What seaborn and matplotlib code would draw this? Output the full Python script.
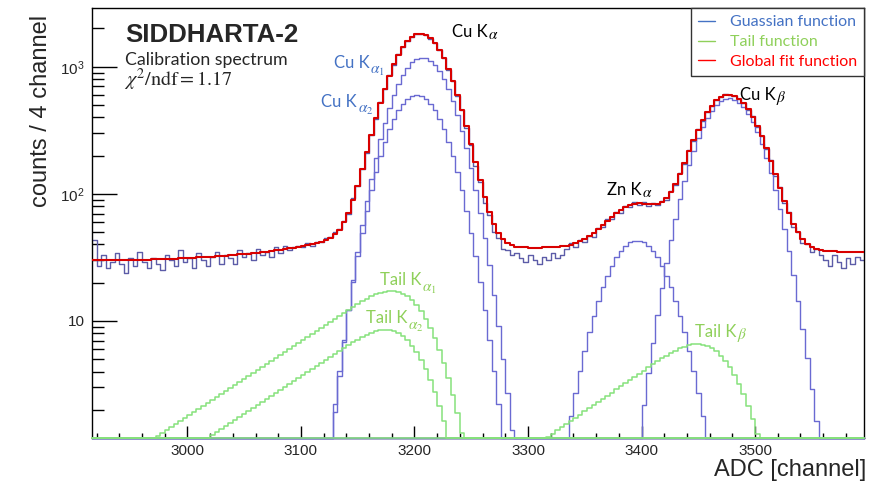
import math
import numpy as np
import matplotlib
matplotlib.use("Agg")
import matplotlib.pyplot as plt
import seaborn as sns
from matplotlib.lines import Line2D
from matplotlib.ticker import FixedLocator, FuncFormatter, NullFormatter

# ---- binning: 4 ADC channels per bin ----
adc_min, adc_max, bin_width = 2916, 3596, 4

# ---- measured calibration spectrum (counts per bin, 170 bins) ----
counts = [
    43, 27, 33, 26, 29, 34, 28, 24, 31, 27,
    35, 29, 26, 31, 28, 25, 33, 30, 27, 36,
    29, 31, 26, 34, 30, 27, 32, 35, 28, 33,
    31, 28, 36, 32, 34, 30, 37, 33, 35, 32,
    38, 34, 39, 36, 38,
    39, 38, 41, 39, 42,
    42, 45, 46, 50, 53, 61, 70, 92, 115, 158,
    210, 293, 388, 524, 670, 858, 1038, 1250, 1422, 1605,
    1715, 1806, 1810, 1782, 1668, 1538, 1345, 1163, 950, 772,
    590, 458, 328, 244, 166, 125, 85, 68, 50, 45,
    37, 36, 33, 34,
    31, 29, 33, 30, 28, 32, 30, 34, 31, 33,
    37, 41, 38, 43, 42, 47, 46, 54, 55, 63,
    63, 72, 71, 80, 79, 86, 82, 87, 80, 85,
    81, 88, 90, 105, 117, 146, 172, 220, 261, 325,
    375, 444, 488, 548, 574, 606, 598, 594, 553, 520,
    458, 407, 336, 286, 224, 184, 139, 114, 84, 72,
    55, 50, 41, 40, 35, 37, 33,
    30, 27, 33, 29, 26, 31, 28, 32, 30,
]

# ---- fit result: Gaussian lines, low-energy tails, background ----
line_mean = [3207.0, 3202.0, 3396.0, 3477.0]      # Cu Ka1, Cu Ka2, Zn Ka, Cu Kb
line_sigma = [21.5, 21.5, 23.0, 22.5]
line_height = [1180.0, 600.0, 43.0, 565.0]
tail_parent = [0, 1, 3]                            # Ka1, Ka2, Kb
tail_height = [30.0, 14.8, 11.9]
tail_slope = [73.0, 73.0, 70.0]
bkg_const, bkg_slope = 27.0, -0.6                  # linear part, slope per 100 channels
bkg_pivot = 3256.0
shelf_height = 10.0                                # step across the Cu Ka line

y_min, y_max = 1.2, 2900.0

edges = np.arange(adc_min, adc_max + bin_width, bin_width)
centers = edges[:-1] + bin_width / 2
_erfc = np.vectorize(math.erfc)


def gauss(i):
    return line_height[i] * np.exp(-0.5 * ((centers - line_mean[i]) / line_sigma[i]) ** 2)


def tail(j):
    i = tail_parent[j]
    u = centers - line_mean[i]
    s, b = line_sigma[i], tail_slope[j]
    return tail_height[j] * np.exp(u / b) * 0.5 * _erfc(u / (math.sqrt(2) * s) + s / (math.sqrt(2) * b))


bkg = (bkg_const + bkg_slope * (centers - bkg_pivot) / 100
       + shelf_height * 0.5 * _erfc(-(centers - line_mean[0]) / (math.sqrt(2) * line_sigma[0])))
gaussians = [gauss(i) for i in range(len(line_mean))]
tails = [tail(j) for j in range(len(tail_parent))]
global_fit = bkg + np.sum(gaussians, axis=0) + np.sum(tails, axis=0)

# ---- style ----
sns.set_style("ticks")
plt.rcParams["font.family"] = ["Liberation Sans", "DejaVu Sans"]
plt.rcParams["mathtext.fontset"] = "stix"

data_color = "#5c5ca8"
gauss_color = "#6a6ad2"
tail_color = "#86e27c"
fit_color = "#d80000"
lbl_blue = "#4472c4"
lbl_green = "#8fd05a"

fig = plt.figure(figsize=(8.69, 4.93), dpi=100)
ax = fig.add_axes([0.1059, 0.1116, 0.8884, 0.8722])


def stairs(values, color, lw, z, clip=True):
    y = np.clip(np.asarray(values, dtype=float), y_min, None)
    y = np.append(y, y[-1])
    sns.lineplot(x=edges, y=y, drawstyle="steps-post", color=color, linewidth=lw,
                 ax=ax, zorder=z, legend=False, estimator=None, sort=False, clip_on=clip)


stairs(counts, data_color, 1.0, 2)
for g in gaussians:
    stairs(g, gauss_color, 1.0, 3, clip=False)
for t in tails:
    stairs(t, tail_color, 1.1, 3.5, clip=False)
stairs(global_fit, fit_color, 1.5, 4)

ax.set_yscale("log")
ax.set_xlim(adc_min, adc_max)
ax.set_ylim(y_min, y_max)

# ticks
ax.xaxis.set_major_locator(FixedLocator(np.arange(3000, 3600, 100)))
ax.xaxis.set_minor_locator(FixedLocator(np.arange(2920, 3600, 20)))
ax.yaxis.set_major_locator(FixedLocator([10, 100, 1000]))
ax.yaxis.set_minor_locator(FixedLocator([m * 10 ** e for e in range(0, 4) for m in range(2, 10)]))
ax.yaxis.set_minor_formatter(NullFormatter())
ax.yaxis.set_major_formatter(FuncFormatter(
    lambda v, p: {10: "10", 100: r"$\mathdefault{10^{2}}$", 1000: r"$\mathdefault{10^{3}}$"}.get(int(round(v)), "")))
ax.tick_params(axis="both", which="both", direction="in", top=False, right=False,
               labelsize=11, width=1.0, color="black")
ax.tick_params(axis="x", which="major", length=8.6, pad=4.5)
ax.tick_params(axis="x", which="minor", length=3.8)
ax.tick_params(axis="y", which="major", length=18, pad=5.5)
ax.tick_params(axis="y", which="minor", length=8.6)
for s in ax.spines.values():
    s.set_linewidth(1.0)
    s.set_color("black")

ax.set_xlabel("ADC [channel]", fontsize=17, loc="right")
ax.xaxis.set_label_coords(1.0026, -0.05)
ax.set_ylabel("counts / 4 channel", fontsize=17, loc="top")
ax.yaxis.set_label_coords(-0.052, 0.984)

# headline text
ax.text(0.0427, 0.921, "SIDDHARTA-2", transform=ax.transAxes, fontsize=18.6,
        fontweight="bold", va="baseline")
ax.text(0.0427, 0.867, "Calibration spectrum", transform=ax.transAxes, fontsize=12.8,
        family=["Lato", "DejaVu Sans"], va="baseline")
ax.text(0.0415, 0.819, r"$\chi^2/\mathrm{ndf} = 1.17$", transform=ax.transAxes,
        fontsize=14.5, va="baseline")

# line labels: name, then the Greek subscript set a little lower
lab_font = ["Lato", "DejaVu Sans"]
peak_labels = [
    (0.466, 0.933, "Cu K", r"$\alpha$", 1.5, "black"),
    (0.313, 0.860, "Cu K", r"$\alpha_1$", 4.3, lbl_blue),
    (0.297, 0.770, "Cu K", r"$\alpha_2$", 4.3, lbl_blue),
    (0.667, 0.565, "Zn K", r"$\alpha$", 1.5, "black"),
    (0.839, 0.786, "Cu K", r"$\beta$", 1.5, "black"),
    (0.373, 0.356, "Tail K", r"$\alpha_1$", 4.8, lbl_green),
    (0.355, 0.267, "Tail K", r"$\alpha_2$", 4.8, lbl_green),
    (0.781, 0.235, "Tail K", r"$\beta$", 1.5, lbl_green),
]
for x, y, main, sub, drop, c in peak_labels:
    t = ax.text(x, y, main, transform=ax.transAxes, fontsize=12, color=c,
                family=lab_font, va="baseline")
    ax.annotate(sub, xy=(1.0, y), xycoords=(t, "axes fraction"),
                xytext=(0.6, -drop), textcoords="offset points",
                fontsize=11, color=c, va="baseline", ha="left")

# legend
handles = [Line2D([], [], color=lbl_blue, lw=1.0),
           Line2D([], [], color=lbl_green, lw=1.0),
           Line2D([], [], color="#ff0000", lw=1.0)]
names = ["Guassian function", "Tail function", "Global fit function"]
leg = ax.legend(handles, names, loc="upper right", bbox_to_anchor=(1.0, 1.0),
                borderaxespad=0.0, frameon=True, fancybox=False, edgecolor="#333333",
                framealpha=1.0, prop={"family": lab_font, "size": 11.5},
                handlelength=1.1, handletextpad=0.9, borderpad=0.45, labelspacing=0.35)
leg.get_frame().set_linewidth(1.0)
leg.set_zorder(10)
for txt, c in zip(leg.get_texts(), [lbl_blue, lbl_green, "#ff0000"]):
    txt.set_color(c)

fig.savefig("out.png", dpi=100)
